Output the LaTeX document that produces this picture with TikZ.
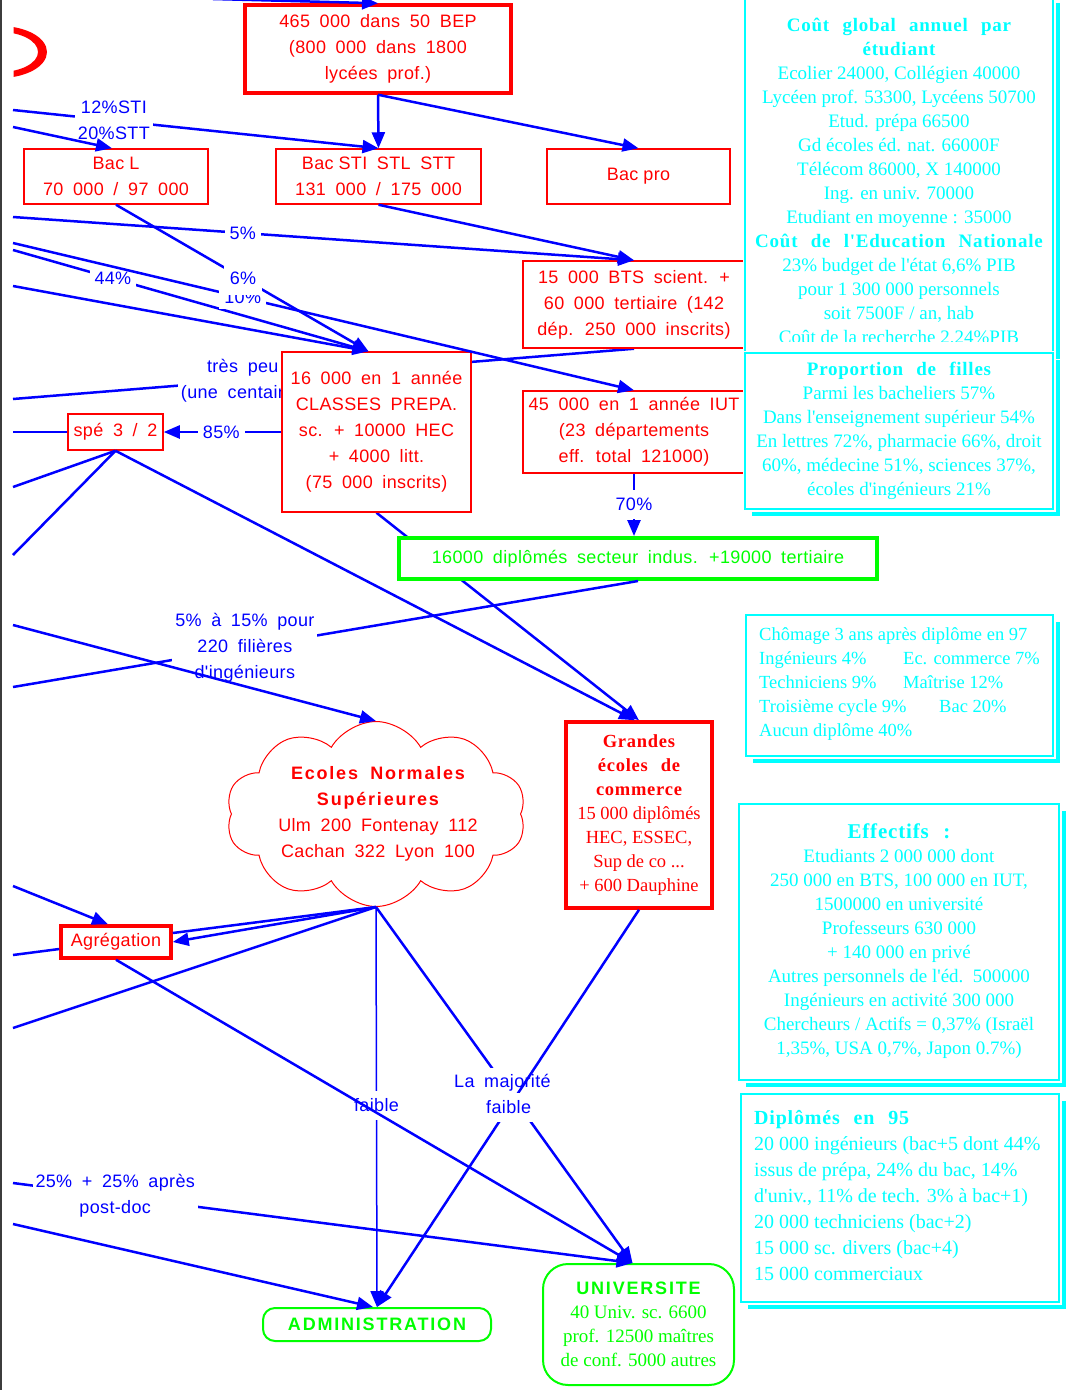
\documentclass[tikz,border=0pt]{standalone}
\usepackage{fontspec}
\setmainfont{Liberation Sans}
\newfontfamily\sfA{Liberation Sans}[WordSpace=1.8,LetterSpace=2]
\newfontfamily\sfB{Liberation Sans}[WordSpace=1.8,LetterSpace=10,Ligatures=NoCommon]
\newfontfamily\rmA{Liberation Serif}
\newfontfamily\rmB{Liberation Serif}[WordSpace=2.4,LetterSpace=4,Ligatures=NoCommon]
\usetikzlibrary{arrows.meta,shapes.symbols,backgrounds}
\definecolor{rd}{RGB}{255,0,0}
\definecolor{bl}{RGB}{0,0,255}
\definecolor{cy}{RGB}{0,255,255}
\definecolor{gr}{RGB}{0,255,0}
\definecolor{edge}{RGB}{60,60,60}
\newcommand\fSA{\sfA\fontsize{18}{26}\selectfont}
\newcommand\fSB{\sfB\bfseries\fontsize{18}{26}\selectfont}
\newcommand\fRA{\rmA\fontsize{19}{24}\selectfont}
\newcommand\fRB{\rmB\bfseries}
\begin{document}
\begin{tikzpicture}[x=1pt,y=-1pt,
 conn/.style={draw=bl, line width=2.5pt},
 arr/.style={conn, -{Triangle[length=16pt,width=13pt]}},
 lab/.style={fill=white, text=bl, font=\fSA, align=center, inner sep=5pt},
 rbox/.style={draw=rd, fill=white, line width=1.5pt, inner sep=0pt, align=center, text=rd, font=\fSA},
 rboxT/.style={rbox, line width=3.5pt},
 gbox/.style={draw=gr, fill=white, line width=2pt, inner sep=0pt, align=center, text=gr, font=\fSA, rounded corners=12pt},
 cbox/.style={draw=cy, fill=white, line width=1.3pt, inner sep=0pt, preaction={draw=white, line width=5pt}},
 ctext/.style={text=cy, align=center, font=\fRA, inner sep=0pt},
 shadow/.style={fill=cy}]
\useasboundingbox (0,0) rectangle (1067,1390);
\clip (0,0) rectangle (1067,1390);

% left border and red crescent
\draw[line width=2pt, edge] (1,0) -- (1,1390);
\begin{scope}
 \clip (13.5,0) rectangle (120,120);
 \fill[rd, even odd rule] (0,52) ellipse [x radius=47pt, y radius=26pt] (0,52) ellipse [x radius=38pt, y radius=20pt];
\end{scope}

% free ends at the left / top edge
\coordinate (topL) at (213,-1);
\coordinate (L1) at (13,110);
\coordinate (L2) at (13,127);
\coordinate (L3) at (13,217);
\coordinate (L4) at (13,243);
\coordinate (L5) at (13,250);
\coordinate (L6) at (13,286);
\coordinate (L7) at (13,399);
\coordinate (L8) at (13,432);
\coordinate (L9) at (13,487);
\coordinate (L10) at (13,555);
\coordinate (L11) at (13,687);
\coordinate (L12) at (13,625);
\coordinate (L13) at (13,886);
\coordinate (L14) at (13,955);
\coordinate (L15) at (13,1028);
\coordinate (L16) at (13,1183);
\coordinate (L17) at (13,1224);

% nodes
\node[rboxT, minimum width=266pt, minimum height=88pt] (bep) at (378,49) {465 000 dans 50 BEP\\(800 000 dans 1800\\lycées prof.)};
\node[rbox, minimum width=184pt, minimum height=55pt] (bacl) at (116,176.5) {Bac\hspace{5pt}L\\70 000 / 97 000};
\node[rbox, minimum width=205pt, minimum height=55pt] (bacsti) at (378.5,176.5) {Bac\hspace{5pt}STI STL STT\\131 000 / 175 000};
\node[rbox, minimum width=183pt, minimum height=55pt] (bacpro) at (638.5,176.5) {Bac\hspace{5pt}pro};
\node[rbox, minimum width=222pt, minimum height=87pt] (bts) at (634,304.5) {15 000 BTS scient. +\\60 000 tertiaire (142\\dép. 250 000 inscrits)};
\node[rbox, minimum width=222pt, minimum height=82pt] (iut) at (634,432) {45 000 en 1 année IUT\\(23 départements\\eff. total 121000)};
\node[rbox, minimum width=189pt, minimum height=160pt] (prepa) at (376.5,432) {16 000 en 1 année\\CLASSES PREPA.\\sc. + 10000 HEC\\+ 4000 litt.\\(75 000 inscrits)};
\node[rbox, minimum width=95pt, minimum height=36pt] (spe) at (115.5,432) {spé 3 / 2};
\node[gbox, sharp corners, line width=4pt, minimum width=478pt, minimum height=41pt] (dip) at (638,558.5) {16000 diplômés secteur indus. +19000 tertiaire};
\node[cloud, cloud puffs=10, cloud puff arc=120, cloud ignores aspect, draw=rd, line width=1pt, fill=white, minimum width=300pt, minimum height=185pt, inner sep=0pt] (ens) at (376,814) {};
\node[text=rd, font=\fSA, align=center, inner sep=0pt] (enst) at (378,814) {{\fSB Ecoles Normales}\\{\fSB Supérieures}\\Ulm 200 Fontenay 112\\Cachan 322 Lyon 100};
\node[rboxT, font=\rmA\fontsize{18.5}{24}\selectfont, minimum width=146pt, minimum height=186pt] (ge) at (639,815) {{\fRB Grandes}\\{\fRB écoles de}\\{\fRB commerce}\\15 000 diplômés\\HEC, ESSEC,\\Sup de co ...\\+ 600 Dauphine};
\node[rboxT, minimum width=110pt, minimum height=32pt] (agr) at (116,942) {Agrégation};
\node[gbox, font=\fSB, minimum width=228pt, minimum height=33pt] (admin) at (377,1324.5) {ADMINISTRATION};
\node[gbox, rounded corners=25pt, font=\rmA\fontsize{19}{24}\selectfont, minimum width=191pt, minimum height=121pt] (univ) at (638.5,1324.5) {{\fSB UNIVERSITE}\\40 Univ. sc. 6600\\prof. 12500 maîtres\\de conf. 5000 autres};

% connectors hidden behind boxes
\begin{scope}[on background layer]
 \fill[white] (0,0) rectangle (1067,1390);
 \draw[conn] (bts.south) -- node[lab, pos=0.63, inner sep=3pt] {très peu\\(une centaine)} (L7);
 \draw[arr] (prepa.south) -- (ge.north);
\end{scope}

% connectors
\draw[arr] (topL) -- (bep.north);
\draw[arr] (bep.south) -- (bacsti.north);
\draw[arr] (bep.south) -- (bacpro.north);
\draw[arr] (L1) -- node[lab, pos=0.276, inner xsep=3pt, inner ysep=1pt] {12\%STI\\20\%STT} (bacsti.north);
\draw[arr] (L2) -- ([xshift=-4pt]bacl.north);
\draw[arr] (bacsti.south) -- (bts.north);
\draw[arr] (L3) -- node[lab, pos=0.37] {5\%} (bts.north);
\draw[arr] (L6) -- ([xshift=-8pt]prepa.north);
\draw[arr] (L5) -- node[lab, pos=0.281] {44\%} ([xshift=-8pt]prepa.north);
\draw[arr] (L4) -- node[lab, pos=0.37] {10\%} (iut.north);
\draw[arr] (bacl.south) -- node[lab, pos=0.503, inner xsep=6pt, inner ysep=10pt] {6\%} ([xshift=-8pt]prepa.north);
\draw[arr] (prepa.west) -- node[lab, pos=0.51, inner ysep=2pt] {85\%} (spe.east);
\draw[conn] (L8) -- (spe.west);
\draw[conn] (spe.south) -- (L9);
\draw[conn] (spe.south) -- (L10);
\draw[arr] (spe.south) -- ([xshift=-4pt]ge.north);
\draw[arr] (iut.south) -- node[lab, pos=0.49, inner sep=8pt] {70\%} (iut.south |- dip.north);
\draw[conn] (dip.south) -- node[lab, pos=0.629, inner sep=3pt] {5\% à 15\% pour\\220 filières\\d'ingénieurs} (L11);
\draw[arr] (L12) -- (ens.north);
\draw[arr] (L13) -- ([xshift=-8pt]agr.north);
\draw[conn] (L14) -- ([yshift=-7pt]agr.west);
\draw[conn] (ens.south) -- ([yshift=9pt]agr.east);
\draw[arr] (ens.south) -- (agr.east);
\draw[conn] (ens.south) -- (L15);
\draw[arr, line width=1.5pt] (ens.south) -- node[lab, pos=0.496, inner xsep=2pt, inner ysep=8pt] {faible} (admin.north);
\draw[arr] (ens.south) -- node[lab, pos=0.493, inner xsep=2pt, inner ysep=6pt] {La majorité} ([xshift=-6pt]univ.north);
\draw[arr] (ge.south) -- node[lab, pos=0.4975, inner xsep=2pt, inner ysep=8pt] {faible} (admin.north);
\draw[arr] (agr.south) -- ([xshift=-6pt]univ.north);
\draw[arr] (L16) -- node[lab, pos=0.165, inner sep=3pt] {25\% + 25\% après\\post-doc} ([xshift=-6pt]univ.north);
\draw[arr] (L17) -- ([xshift=-4pt]admin.north);

% cyan boxes
\fill[shadow] (752,3) rectangle (1060,359);
\node[cbox, minimum width=308pt, minimum height=356pt] (c1) at (899,174) {};
\begin{scope}
 \clip (746,0) rectangle (1052,341);
 \node[ctext] (c1t) at (899,182) {{\fRB Coût global annuel par}\\{\fRB étudiant}\\Ecolier 24000, Collégien 40000\\Lycéen prof. 53300, Lycéens 50700\\Etud. prépa 66500\\Gd écoles éd. nat. 66000F\\Télécom 86000, X 140000\\Ing. en univ. 70000\\Etudiant en moyenne : 35000\\{\fRB Coût de l'Education Nationale}\\23\% budget de l'état 6,6\% PIB\\pour 1 300 000 personnels\\soit 7500F / an, hab\\Coût de la recherche 2,24\%PIB};
\end{scope}

\fill[shadow] (752,360) rectangle (1060,516);
\node[cbox, minimum width=308pt, minimum height=156pt] (c2) at (899,431) {};
\node[ctext] (c2t) at (899,431) {{\fRB Proportion\ de\ filles}\\Parmi les bacheliers 57\%\\Dans l'enseignement supérieur 54\%\\En lettres 72\%, pharmacie 66\%, droit\\60\%, médecine 51\%, sciences 37\%,\\écoles d'ingénieurs 21\%};

\fill[shadow] (753,622) rectangle (1060,763);
\node[cbox, minimum width=307pt, minimum height=141pt] (c3) at (899.5,685.5) {};
\node[ctext, align=left, anchor=west, font=\rmA\fontsize{18.5}{24}\selectfont] (c3t) at (759,684) {Chômage 3 ans après diplôme en 97\\\makebox[144pt][l]{Ingénieurs 4\%}Ec. commerce 7\%\\\makebox[144pt][l]{Techniciens 9\%}Maîtrise 12\%\\\makebox[180pt][l]{Troisième cycle 9\%}Bac 20\%\\Aucun diplôme 40\%};

\fill[shadow] (746,811) rectangle (1066,1087);
\node[cbox, minimum width=320pt, minimum height=276pt] (c4) at (899,942) {};
\node[ctext] (c4t) at (899,941) {{\rmB\bfseries\fontsize{21}{24}\selectfont Effectifs :}\\Etudiants 2 000 000 dont\\250 000 en BTS, 100 000 en IUT,\\1500000 en université\\Professeurs 630 000\\+ 140 000 en privé\\Autres personnels de l'éd.\ \ 500000\\Ingénieurs en activité 300 000\\Chercheurs / Actifs = 0,37\% (Israël\\1,35\%, USA 0,7\%, Japon 0.7\%)};

\fill[shadow] (748,1101) rectangle (1066,1309);
\node[cbox, minimum width=318pt, minimum height=208pt] (c5) at (900,1198) {};
\node[ctext, align=left, anchor=west, font=\rmA\fontsize{20}{26}\selectfont] (c5t) at (754,1196) {{\fRB Diplômés en 95}\\20 000 ingénieurs (bac+5 dont 44\%\\issus de prépa, 24\% du bac, 14\%\\d'univ., 11\% de tech. 3\% à bac+1)\\20 000 techniciens (bac+2)\\15 000 sc. divers (bac+4)\\15 000 commerciaux};
\end{tikzpicture}
\end{document}
